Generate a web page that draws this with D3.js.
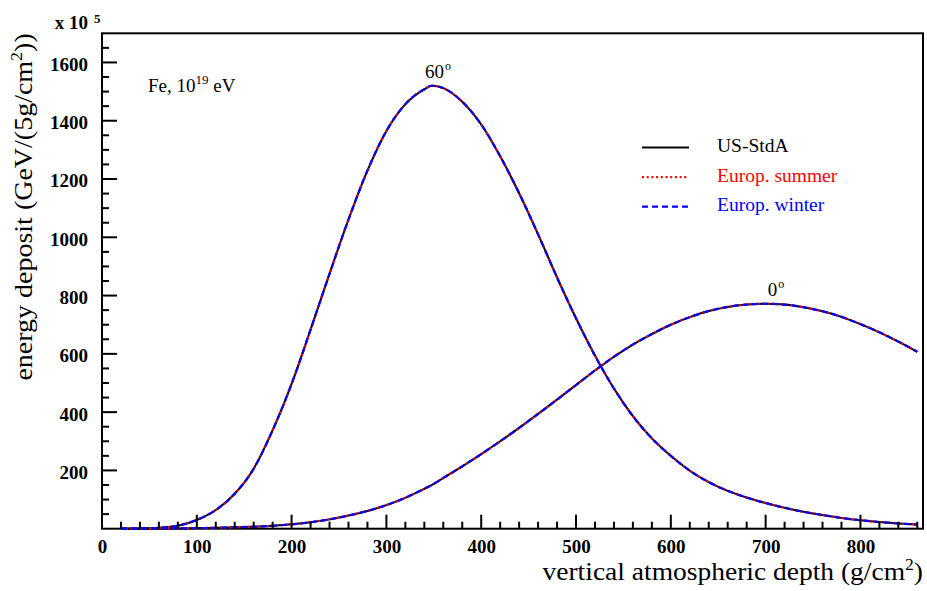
<!DOCTYPE html>
<html>
<head>
<meta charset="utf-8">
<script src="https://cdn.jsdelivr.net/npm/d3@7"></script>
<style>
  html, body { margin: 0; padding: 0; background: #fff; }
  svg { display: block; font-family: "Liberation Serif", "Times New Roman", serif; }
</style>
</head>
<body>
<svg id="chart" width="927" height="591"></svg>
<script>
// Longitudinal energy-deposit profiles of a 10^19 eV iron shower
// for two zenith angles, computed with three atmosphere models.

// Vertical atmospheric depth (g/cm^2) at which the profiles are sampled
const depth = [20, 40, 60, 80, 100, 120, 140, 160, 180, 200, 220, 240, 260, 280, 300,
  320, 340, 348, 360, 380, 400, 420, 440, 460, 480, 500, 520, 540, 560, 580, 600,
  620, 640, 660, 680, 700, 720, 740, 760, 780, 800, 820, 840, 860];

// Energy deposit (x 10^5 GeV per 5 g/cm^2), zenith angle 60 deg
const profile60 = [0, 1, 3, 10, 30, 64, 120, 206, 338, 497, 683, 875, 1061, 1229, 1365,
  1457, 1508, 1520, 1512, 1465, 1387, 1278, 1151, 1010, 862, 722, 594, 481, 386, 310, 250,
  199, 160, 130, 107, 88, 72, 58, 47, 37, 29, 23, 18, 14];

// Energy deposit (x 10^5 GeV per 5 g/cm^2), zenith angle 0 deg
const profile0 = [0, 0, 1, 1, 2, 3, 5, 7, 10, 15, 22, 32, 45, 61, 81,
  106, 137, 150, 174, 214, 256, 300, 346, 394, 443, 493, 543, 590, 632, 668, 700,
  726, 747, 761, 769, 772, 769, 760, 746, 727, 702, 674, 642, 607];

// Shower labels
const angleLabels = ["60", "0"];

// Atmosphere models (legend entries)
const models = ["US-StdA", "Europ. summer", "Europ. winter"];
const modelColors = ["#000000", "#ff0000", "#0000ff"];
const modelDash = [null, "2,2.7", "6,4"];

// Axis ticks
const xMajorTicks = [0, 100, 200, 300, 400, 500, 600, 700, 800];
const yMajorTicks = [200, 400, 600, 800, 1000, 1200, 1400, 1600];

const svg = d3.select("#chart");
const plotLeft = 102, plotRight = 923, plotTop = 33.3, plotBottom = 528.7;

const x = d3.scaleLinear().domain([0, 866]).range([plotLeft, plotRight]);
const y = d3.scaleLinear().domain([0, 1700]).range([plotBottom, plotTop]);

const xMinor = d3.range(20, 861, 20).filter(v => v % 100 !== 0);
const yMinor = d3.range(50, 1700, 50).filter(v => v % 200 !== 0);

// Tick labels
svg.append("g")
  .attr("transform", `translate(0,${plotBottom})`)
  .call(d3.axisBottom(x).tickValues(xMajorTicks).tickSize(0).tickPadding(11).tickFormat(d3.format("d")))
  .call(g => g.select(".domain").remove())
  .call(g => g.selectAll("line").remove())
  .call(g => g.selectAll("text")
    .attr("fill", "#000")
    .attr("font-family", "Liberation Serif, serif")
    .attr("font-weight", "bold")
    .attr("font-size", 19));
svg.append("g")
  .attr("transform", `translate(${plotLeft},0)`)
  .call(d3.axisLeft(y).tickValues(yMajorTicks).tickSize(0).tickPadding(14).tickFormat(d3.format("d")))
  .call(g => g.select(".domain").remove())
  .call(g => g.selectAll("line").remove())
  .call(g => g.selectAll("text")
    .attr("fill", "#000")
    .attr("dy", "0.42em")
    .attr("font-family", "Liberation Serif, serif")
    .attr("font-weight", "bold")
    .attr("font-size", 19));

// Frame
svg.append("rect")
  .attr("x", plotLeft).attr("y", plotTop)
  .attr("width", plotRight - plotLeft).attr("height", plotBottom - plotTop)
  .attr("fill", "none").attr("stroke", "#000").attr("stroke-width", 2);

// Curves
const profiles = [profile60, profile0];
const line = d3.line()
  .x(d => x(d[0]))
  .y(d => y(d[1]))
  .curve(d3.curveMonotoneX);

models.forEach((m, mi) => {
  profiles.forEach(p => {
    const pts = depth.map((d, i) => [d, p[i]]);
    svg.append("path")
      .datum(pts)
      .attr("d", line)
      .attr("fill", "none")
      .attr("stroke", modelColors[mi])
      .attr("stroke-width", mi === 0 ? 2 : 2.2)
      .attr("stroke-dasharray", modelDash[mi]);
  });
});

// Tick marks, pointing into the frame
const xTickMarks = xMajorTicks.map(v => ({ v, len: 14 })).concat(xMinor.map(v => ({ v, len: 7 })));
const yTickMarks = yMajorTicks.map(v => ({ v, len: 15 })).concat(yMinor.map(v => ({ v, len: 7 })));
svg.append("g")
  .selectAll("line")
  .data(xTickMarks)
  .join("line")
  .attr("stroke", "#000").attr("stroke-width", 2)
  .attr("x1", d => x(d.v)).attr("x2", d => x(d.v))
  .attr("y1", plotBottom).attr("y2", d => plotBottom - d.len);
svg.append("g")
  .selectAll("line")
  .data(yTickMarks)
  .join("line")
  .attr("stroke", "#000").attr("stroke-width", 2)
  .attr("y1", d => y(d.v)).attr("y2", d => y(d.v))
  .attr("x1", plotLeft).attr("x2", d => plotLeft + d.len);

// Angle labels above each maximum
profiles.forEach((p, k) => {
  const iMax = d3.maxIndex(p);
  const t = svg.append("text")
    .attr("x", x(depth[iMax]) + (k === 0 ? -7 : 2))
    .attr("y", y(p[iMax]) - 8)
    .attr("font-size", 19)
    .attr("fill", "#000");
  t.append("tspan").text(angleLabels[k]);
  t.append("tspan").attr("font-size", 12).attr("dy", -8).attr("dx", 1).text("o");
});

// Primary particle annotation
const fe = svg.append("text").attr("x", 148).attr("y", 92).attr("font-size", 19).attr("fill", "#000");
fe.append("tspan").text("Fe, 10");
fe.append("tspan").attr("font-size", 13).attr("dy", -8).text("19");
fe.append("tspan").attr("dy", 8).text(" eV");

// Y axis scale factor
svg.append("text").attr("x", 88).attr("y", 28.5)
  .attr("text-anchor", "end").attr("font-weight", "bold").attr("font-size", 19)
  .text("x 10");
svg.append("text").attr("x", 94).attr("y", 23)
  .attr("font-weight", "bold").attr("font-size", 13)
  .text("5");

// Legend
const legend = svg.append("g");
models.forEach((m, i) => {
  const ly = 147.5 + i * 29.6;
  legend.append("line")
    .attr("x1", 642).attr("x2", 689).attr("y1", ly).attr("y2", ly)
    .attr("stroke", modelColors[i]).attr("stroke-width", 2.2)
    .attr("stroke-dasharray", modelDash[i]);
  legend.append("text")
    .attr("x", 717).attr("y", ly + 4.5)
    .attr("font-size", 19.5).attr("fill", modelColors[i])
    .text(m);
});

// Axis titles
const xt = svg.append("text")
  .attr("transform", `translate(${plotRight},580) scale(1.1,1)`)
  .attr("text-anchor", "end").attr("font-size", 25).attr("fill", "#000");
xt.append("tspan").text("vertical atmospheric depth (g/cm");
xt.append("tspan").attr("font-size", 16).attr("dy", -10).text("2");
xt.append("tspan").attr("dy", 10).text(")");

const yt = svg.append("text")
  .attr("transform", `translate(32,${plotTop}) rotate(-90) scale(1.12,1)`)
  .attr("text-anchor", "end").attr("font-size", 25).attr("fill", "#000");
yt.append("tspan").text("energy deposit (GeV/(5g/cm");
yt.append("tspan").attr("font-size", 16).attr("dy", -10).text("2");
yt.append("tspan").attr("dy", 10).text("))");
</script>
</body>
</html>
